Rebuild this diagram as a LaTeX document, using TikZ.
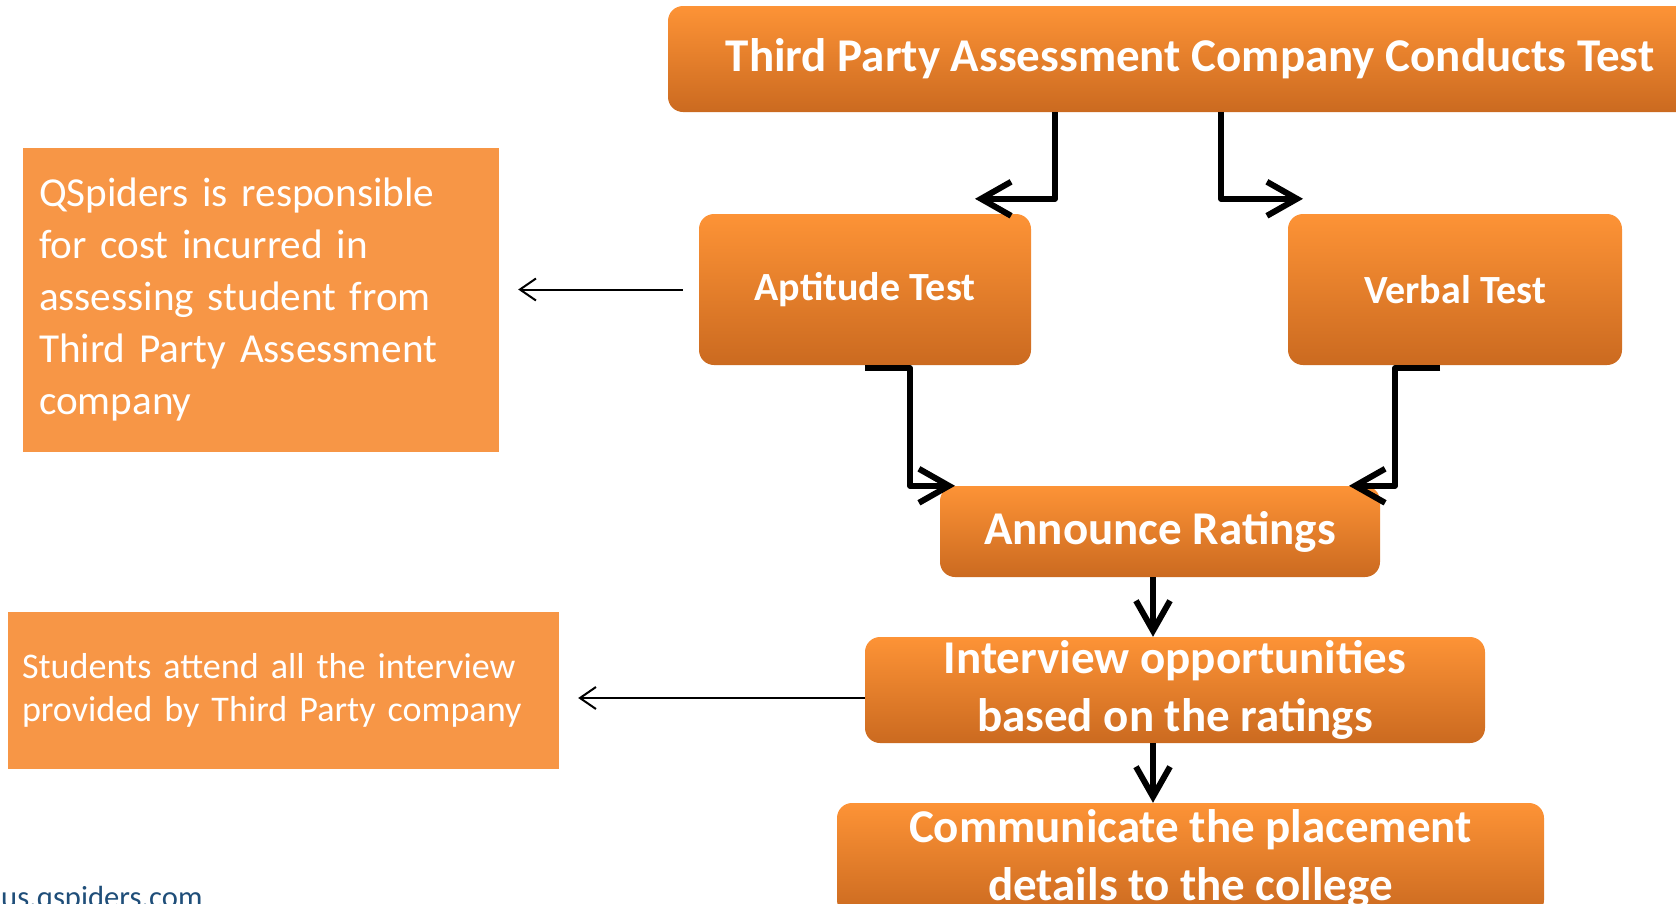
\documentclass[tikz,border=0pt]{standalone}
\usepackage{fontspec}
\setmainfont{Carlito}
\usetikzlibrary{arrows.meta}
\definecolor{stagetop}{HTML}{FD9336}
\definecolor{stagebot}{HTML}{CB6A20}
\definecolor{notefill}{HTML}{F79646}
\definecolor{sitetext}{HTML}{1F4E79}
\newcommand\stagefont{\fontsize{47}{58}\selectfont\bfseries}
\newcommand\testfont{\fontsize{40}{48}\selectfont\bfseries}
\newcommand\costfont{\fontsize{41.2}{52}\selectfont}
\newcommand\attendfont{\fontsize{36.1}{43}\selectfont}
\tikzset{
	stage/.style={draw=none, rounded corners=15pt, top color=stagetop, bottom color=stagebot, text=white, align=center, inner sep=0pt, font=\stagefont},
	note/.style={fill=notefill, text=white, align=left, inner ysep=0pt},
	flow/.style={draw=black, line width=6pt, line join=round, -{Straight Barb[length=30pt,width=34pt]}},
	link/.style={draw=black, line width=2pt, -{Straight Barb[length=16pt,width=22pt]}}
}
\begin{document}
\begin{tikzpicture}[x=1pt,y=-1pt]
	\useasboundingbox (0,0) rectangle (1676,903);
	\clip (0,0) rectangle (1676,903);
	\node[stage, minimum width=1044pt, minimum height=106pt] (conducts) at (1190,59) {Third Party Assessment Company Conducts Test};
	\node[stage, minimum width=332pt, minimum height=151pt, font=\testfont] (aptitude) at (865,289.5) {Aptitude Test};
	\node[stage, minimum width=334pt, minimum height=151pt, font=\testfont] (verbal) at (1455,289.5) {Verbal Test};
	\node[stage, minimum width=440pt, minimum height=91pt] (ratings) at (1160,531.5) {Announce Ratings};
	\node[stage, minimum width=620pt, minimum height=106pt] (interview) at (1175,690) {Interview opportunities\\based on the ratings};
	\node[stage, minimum width=707pt, minimum height=112pt] (placement) at (1190.5,859) {Communicate the placement\\details to the college};
	\node[note, minimum width=476pt, minimum height=304pt, text width=444pt, inner xsep=16pt, font=\costfont] (cost) at (261,300) {QSpiders is responsible\\for cost incurred in\\assessing student from\\Third Party Assessment\\company};
	\node[note, minimum width=551pt, minimum height=157pt, text width=523pt, inner xsep=14pt, font=\attendfont] (attend) at (283.5,690.5) {Students attend all the interview\\provided by Third Party company};
	\node[text=sitetext, anchor=base west, inner sep=0pt, font=\fontsize{30.6}{36}\selectfont] (site) at (1,907) {us.qspiders.com};
	\draw[flow] ([xshift=-135pt]conducts.south) |- ([xshift=110pt,yshift=15pt]aptitude.north);
	\draw[flow] ([xshift=31pt]conducts.south) |- ([xshift=-152pt,yshift=15pt]verbal.north);
	\draw[flow] ([yshift=-3pt]aptitude.south) -- ++(45,0) |- ([xshift=-205pt]ratings.north);
	\draw[flow] ([xshift=-15pt,yshift=-3pt]verbal.south) -- ++(-45,0) |- ([xshift=189pt]ratings.north);
	\draw[flow] ([xshift=-7pt]ratings.south) -- ([xshift=-22pt]interview.north);
	\draw[flow] ([xshift=-22pt]interview.south) -- ([xshift=-37.5pt]placement.north);
	\draw[link] ([xshift=-16pt]aptitude.west) -- ([xshift=19pt,yshift=10.5pt]cost.east);
	\draw[link] ([yshift=-8pt]interview.west) -- ([xshift=19pt,yshift=-7.5pt]attend.east);
\end{tikzpicture}
\end{document}
